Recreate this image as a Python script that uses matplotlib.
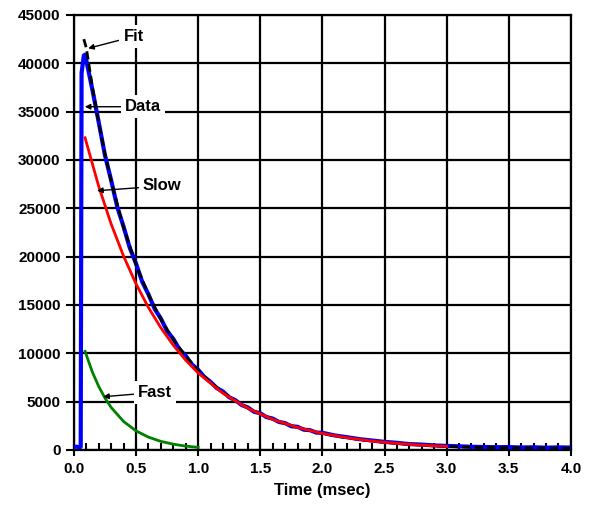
import matplotlib.pyplot as plt
from matplotlib.ticker import MultipleLocator

plt.rcParams['font.family'] = ['Liberation Sans', 'DejaVu Sans']
plt.rcParams['font.weight'] = 'bold'

# 测量数据 (蓝线)
data_t = [0.0, 0.02, 0.04, 0.055, 0.062, 0.08, 0.09, 0.1, 0.15, 0.2, 0.25, 0.3, 0.35,
          0.4, 0.45, 0.5, 0.55, 0.6, 0.65, 0.7, 0.75, 0.8, 0.85, 0.9, 0.95, 1.0,
          1.05, 1.1, 1.15, 1.2, 1.25, 1.3, 1.35, 1.4, 1.45, 1.5, 1.55, 1.6, 1.65,
          1.7, 1.75, 1.8, 1.85, 1.9, 1.95, 2.0, 2.1, 2.2, 2.3, 2.4, 2.5, 2.6, 2.7,
          2.8, 2.9, 3.0, 3.1, 3.2, 3.3, 3.4, 3.5, 3.6, 3.7, 3.8, 3.9, 4.0]
data_y = [300, 350, 280, 320, 39000, 40800, 40900, 40300, 37200, 33900, 30500, 27900, 25100,
          23100, 20900, 19300, 17400, 16100, 14600, 13600, 12300, 11500, 10400, 9750, 8850, 8300,
          7550, 7050, 6400, 6050, 5450, 5150, 4650, 4400, 3950, 3800, 3400, 3250, 2900,
          2780, 2450, 2400, 2100, 2050, 1800, 1780, 1500, 1320, 1120, 980, 840, 740, 610,
          560, 470, 420, 380, 330, 310, 290, 300, 260, 280, 240, 270, 250]

# 拟合曲线 (黑色虚线)
fit_t = [0.08, 0.1, 0.15, 0.2, 0.25, 0.3, 0.4, 0.5, 0.6, 0.7, 0.8, 0.9, 1.0, 1.1, 1.2,
         1.3, 1.4, 1.5, 1.6, 1.7, 1.8, 1.9, 2.0, 2.1, 2.2, 2.3, 2.4, 2.5, 2.6, 2.7,
         2.8, 2.9, 3.0, 3.2, 3.4, 3.6, 3.8, 4.0]
fit_y = [42500, 41600, 37470, 33840, 30640, 27780, 23000, 19170, 16070, 13530, 11440, 9690,
         8240, 7010, 5980, 5100, 4350, 3730, 3185, 2713, 2340, 1993, 1711, 1466, 1257, 1078,
         924, 792, 679, 583, 499, 428, 367, 290, 240, 220, 200, 190]

# 慢分量 (红线)
slow_t = [0.09, 0.2, 0.3, 0.4, 0.5, 0.6, 0.7, 0.8, 0.9, 1.0, 1.2, 1.4, 1.6, 1.8, 2.0,
          2.2, 2.4, 2.6, 2.8, 3.0]
slow_y = [32300, 27270, 23380, 20050, 17190, 14740, 12640, 10840, 9290, 7966, 5856, 4305,
          3165, 2327, 1711, 1257, 924, 679, 499, 367]

# 快分量 (绿线)
fast_t = [0.09, 0.15, 0.2, 0.25, 0.3, 0.4, 0.5, 0.6, 0.7, 0.8, 0.9, 1.0]
fast_y = [10200, 8020, 6570, 5380, 4400, 2950, 1980, 1330, 890, 600, 400, 270]

fig = plt.figure(figsize=(5.91, 5.08), dpi=100)
ax = fig.add_axes([0.125, 0.1142, 0.841, 0.8563])

ax.plot(data_t, data_y, color='#0000ff', lw=3.0, zorder=3)
ax.plot(fit_t, fit_y, color='black', lw=2.0, ls=(0, (3, 1.5)), zorder=4)
ax.plot(slow_t, slow_y, color='#ff0000', lw=2.0, zorder=5)
ax.plot(fast_t, fast_y, color='#008000', lw=2.0, zorder=5)

ax.set_xlim(0, 4.0)
ax.set_ylim(0, 45000)
ax.xaxis.set_major_locator(MultipleLocator(0.5))
ax.xaxis.set_minor_locator(MultipleLocator(0.1))
ax.yaxis.set_major_locator(MultipleLocator(5000))
ax.xaxis.set_major_formatter(plt.FormatStrFormatter('%.1f'))

ax.grid(True, which='major', color='black', lw=1.6, zorder=1)
ax.set_axisbelow(True)
for s in ax.spines.values():
    s.set_linewidth(1.6)
ax.tick_params(axis='x', which='major', direction='inout', length=8, width=1.5,
               labelsize=11, pad=5)
ax.tick_params(axis='x', which='minor', direction='in', length=5, width=1.5)
ax.tick_params(axis='y', which='major', direction='out', length=6, width=1.5,
               labelsize=11)
for lab in ax.get_xticklabels() + ax.get_yticklabels():
    lab.set_fontweight('bold')

ax.set_xlabel('Time (msec)', fontsize=12, fontweight='bold', labelpad=5)

box = dict(facecolor='white', edgecolor='none', pad=3)
arrow = dict(arrowstyle='-|>', color='black', lw=1.0, mutation_scale=8,
             shrinkA=0, shrinkB=0)
ax.annotate('Fit', xy=(0.115, 41550), xytext=(0.40, 42770), fontsize=12, fontweight='bold',
            va='center', ha='left', bbox=box, arrowprops=arrow, zorder=6)
ax.annotate('Data', xy=(0.088, 35510), xytext=(0.41, 35510), fontsize=12, fontweight='bold',
            va='center', ha='left', bbox=box, arrowprops=arrow, zorder=6)
ax.annotate('Slow', xy=(0.187, 26820), xytext=(0.555, 27310), fontsize=12, fontweight='bold',
            va='center', ha='left', bbox=box, arrowprops=arrow, zorder=6)
ax.annotate('Fast', xy=(0.236, 5510), xytext=(0.515, 5950), fontsize=12, fontweight='bold',
            va='center', ha='left', bbox=box, arrowprops=arrow, zorder=6)

fig.savefig('out.png', dpi=100)
